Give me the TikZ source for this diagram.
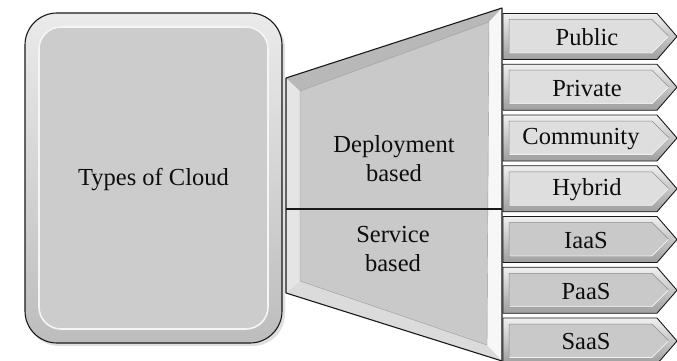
\documentclass[tikz,border=0pt]{standalone}
\usepackage{fontspec}
\setmainfont{Liberation Serif}
\begin{document}
\begin{tikzpicture}[x=1pt,y=-1pt,
  txt/.style={font=\fontsize{24.5}{29}\selectfont, text=black!95, align=center, inner sep=0pt},
  edge/.style={draw=black!90, line width=1.1pt, line join=round},
  ringshade/.style={top color=black!6, bottom color=black!38},
  panelshade/.style={top color=black!8, bottom color=black!26},
  bevelline/.style={draw=black!45, line width=0.5pt},
  highlight/.style={draw=white!96!black, line width=1.6pt}
]
\useasboundingbox (0,0) rectangle (677,361);

% ---- root box: rounded, bevelled panel ----
\fill[black!25, opacity=0.5, rounded corners=32pt] (27,16) rectangle (285,346);
\path[edge, panelshade, rounded corners=32pt] (25,13) rectangle (282,343);
\path[highlight, fill=black!20, rounded corners=22pt] (39,27) rectangle (268,329);
\node[txt] (root) at (153.5,180) {Types of Cloud};

% ---- trapezoid splitting into two categories ----
\coordinate (oTL) at (286,78);  \coordinate (oTR) at (502,8);
\coordinate (oBR) at (502,361); \coordinate (oBL) at (286,293);
\coordinate (iTL) at (300,91);  \coordinate (iTR) at (489,22);
\coordinate (iBR) at (487,345); \coordinate (iBL) at (300,281);
\fill[black!10] (oTL) -- (iTL) -- (iBL) -- (oBL) -- cycle;          % left face
\fill[black!28] (oTL) -- (oTR) -- (iTR) -- (iTL) -- cycle;          % top face
\fill[black!3]  (oTR) -- (oBR) -- (iBR) -- (iTR) -- cycle;          % right face
\fill[black!14] (oBL) -- (iBL) -- (iBR) -- (oBR) -- cycle;          % bottom face
\fill[black!21] (iTL) -- (iTR) -- (iBR) -- (iBL) -- cycle;          % front face
\draw[black!40, line width=0.4pt] (iTL) -- (iTR) -- (iBR) -- (iBL) -- cycle;
\draw[edge] (oTL) -- (oTR) -- (oBR) (oBL) -- (oTL);
\draw[edge] (oBL) -- (oBR);
\coordinate (divL) at (286,209); \coordinate (divR) at (502,209);
\draw[edge] (divL) -- (divR);
\node[txt] (deploy) at (394,159) {Deployment\\based};
\node[txt] (service) at (393,249) {Service\\based};

% ---- leaf arrows ----
\foreach \i/\t/\fc/\xc in {0/Public/black!13/587,1/Private/black!13/587,
    2/Community/black!13/581,3/Hybrid/black!13/587,
    4/IaaS/black!21/586,5/PaaS/black!21/586,6/SaaS/black!21/586} {
  \pgfmathsetmacro\yc{36.5+50.75*\i}
  \path[edge, line width=0.9pt, ringshade]
    (503,{\yc-23}) -- (657,{\yc-23}) -- (677,\yc) -- (657,{\yc+23}) -- (503,{\yc+23}) -- cycle;
  \path[fill=\fc, bevelline]
    (509,{\yc-17}) -- (652,{\yc-17}) -- (669,\yc) -- (652,{\yc+17}) -- (509,{\yc+17}) -- cycle;
  \draw[white!95!black, line width=0.8pt]
    (509.5,{\yc+16.5}) -- (652,{\yc+16.5}) -- (668.5,\yc);
  \node[txt] (leaf\i) at (\xc,{\yc+1}) {\t};
}
\end{tikzpicture}
\end{document}
